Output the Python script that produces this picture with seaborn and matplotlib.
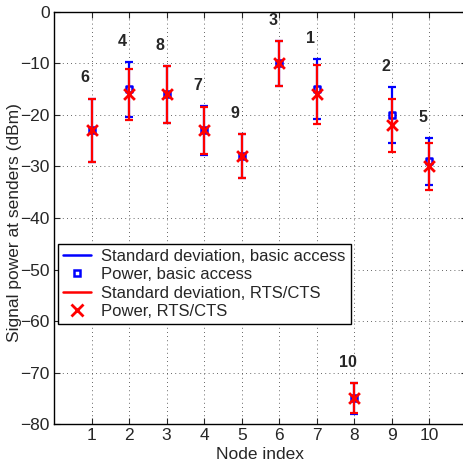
import matplotlib
matplotlib.use("Agg")
import matplotlib.pyplot as plt
from matplotlib.lines import Line2D
import seaborn as sns
import pandas as pd

# node index on the x axis, node id printed above each bar
nodes = [1, 2, 3, 4, 5, 6, 7, 8, 9, 10]
node_ids = ["6", "4", "8", "7", "9", "3", "1", "10", "2", "5"]

basic_mean = [-23, -15, -16, -23, -28, -10, -15, -75, -20, -29]
basic_std = [6.2, 5.3, 5.5, 4.7, 4.3, 4.4, 5.8, 3.0, 5.5, 4.6]
rts_mean = [-23, -16, -16, -23, -28, -10, -16, -75, -22, -30]
rts_std = [6.2, 5.0, 5.5, 4.6, 4.3, 4.4, 5.8, 2.9, 5.2, 4.5]

df = pd.DataFrame({"node": nodes, "basic": basic_mean, "basic_sd": basic_std,
                   "rts": rts_mean, "rts_sd": rts_std})

sns.set_style("ticks")
plt.rcParams["font.family"] = ["Liberation Sans", "DejaVu Sans"]
plt.rcParams["font.size"] = 12.5

fig = plt.figure(figsize=(4.64, 4.70), dpi=100)
ax = fig.add_axes([54 / 464, 1 - 424 / 470, 413 / 464, 412 / 470])

ax.errorbar(df["node"], df["basic"], yerr=df["basic_sd"], fmt="none",
            ecolor="blue", elinewidth=1.6, capsize=2.6, capthick=1.6, zorder=2)
sns.scatterplot(data=df, x="node", y="basic", marker="s", s=24, color="white",
                edgecolor="blue", linewidth=1.8, legend=False, ax=ax, zorder=3)
ax.errorbar(df["node"], df["rts"], yerr=df["rts_sd"], fmt="none",
            ecolor="red", elinewidth=1.6, capsize=2.6, capthick=1.6, zorder=4)
sns.scatterplot(data=df, x="node", y="rts", marker="x", s=60, color="red",
                linewidth=2, legend=False, ax=ax, zorder=5)

for x, name, m1, s1, m2, s2 in zip(nodes, node_ids, basic_mean, basic_std, rts_mean, rts_std):
    top = max(m1 + s1, m2 + s2)
    ax.text(x - 0.17, top + 4, name, ha="center", va="center",
            fontsize=11.5, fontweight="bold")

ax.set_xlim(0, 11)
ax.set_ylim(-80, 0)
ax.set_xticks(nodes)
ax.set_yticks(range(-80, 1, 10))
ax.set_xlabel("Node index", labelpad=3)
ax.set_ylabel("Signal power at senders (dBm)")
ax.yaxis.set_label_coords(-0.077, 0.49)
ax.grid(True, linestyle=(0, (1, 4)), color="#333333", linewidth=0.6)
ax.tick_params(direction="in", top=True, right=True, length=4, pad=3,
               labelsize=12.5)
for sp in ax.spines.values():
    sp.set_linewidth(1.0)
    sp.set_color("black")
    sp.set_visible(True)

handles = [
    Line2D([], [], color="blue", lw=1.8),
    Line2D([], [], color="blue", marker="s", ls="none", markersize=5,
           markerfacecolor="white", markeredgewidth=1.8),
    Line2D([], [], color="red", lw=1.8),
    Line2D([], [], color="red", marker="x", ls="none", markersize=8,
           markeredgewidth=2),
]
labels = ["Standard deviation, basic access", "Power, basic access",
          "Standard deviation, RTS/CTS", "Power, RTS/CTS"]
leg = ax.legend(handles, labels, loc="upper left", bbox_to_anchor=(0.01, 0.437),
                borderaxespad=0, fancybox=False, framealpha=1, edgecolor="black",
                handlelength=1.7, handletextpad=0.6, labelspacing=0.2,
                borderpad=0.3, fontsize=12)
leg.get_frame().set_linewidth(1.0)

fig.savefig("out.png", dpi=100)
